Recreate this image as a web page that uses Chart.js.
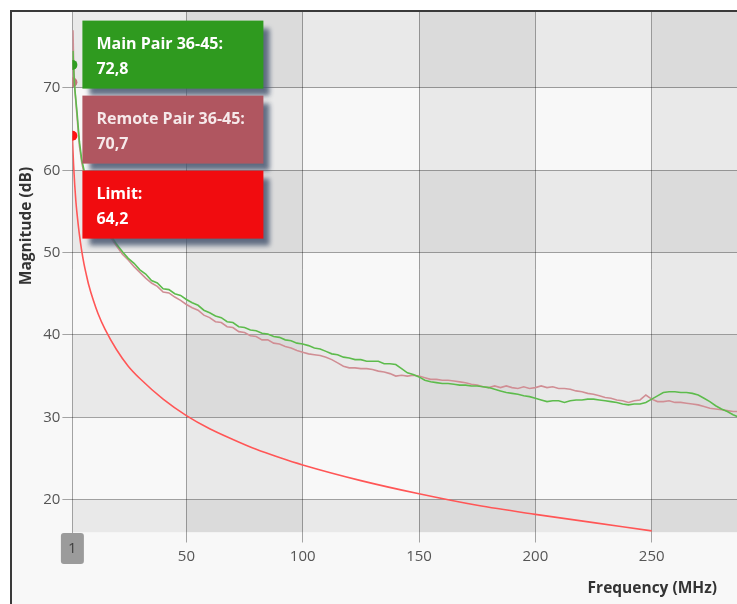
<!DOCTYPE html>
<html>
<head>
<meta charset="utf-8">
<script src="https://cdn.jsdelivr.net/npm/chart.js@4.4.1/dist/chart.umd.min.js"></script>
<style>
    html, body { margin: 0; background: #fff; overflow: hidden; }
    #frame {
        position: absolute; left: 10px; top: 10px;
        width: 770px; height: 620px;
        border-left: 2px solid #3a3a3a; border-top: 2px solid #3a3a3a;
        background: #f8f8f8; overflow: hidden;
    }
    #fextChart { position: absolute; left: 0; top: -12px; }
</style>
</head>
<body>
<div id="frame"><canvas id="fextChart" width="761" height="616"></canvas></div>
<script>
// ===== DATA =====
const freqs = [1, 1.25, 1.5, 2, 3, 4, 5, 6, 8, 10, 12, 15, 17.5,
    20, 22.5, 25, 27.5, 30, 32.5, 35, 37.5, 40, 42.5, 45, 47.5,
    50, 52.5, 55, 57.5, 60, 62.5, 65, 67.5, 70, 72.5, 75, 77.5,
    80, 82.5, 85, 87.5, 90, 92.5, 95, 97.5, 100, 102.5, 105, 107.5,
    110, 112.5, 115, 117.5, 120, 122.5, 125, 127.5, 130, 132.5, 135, 137.5,
    140, 142.5, 145, 147.5, 150, 152.5, 155, 157.5, 160, 162.5, 165, 167.5,
    170, 172.5, 175, 177.5, 180, 182.5, 185, 187.5, 190, 192.5, 195, 197.5,
    200, 202.5, 205, 207.5, 210, 212.5, 215, 217.5, 220, 222.5, 225, 227.5,
    230, 232.5, 235, 237.5, 240, 242.5, 245, 247.5, 250, 252.5, 255, 257.5,
    260, 262.5, 265, 267.5, 270, 272.5, 275, 277.5, 280, 282.5, 285, 287.5, 290];

const mainPair = [72.8, 74.5, 72.5, 70.0, 67.0, 63.5, 61.3, 60.0, 58.0, 56.4, 55.0, 53.2, 52.1,
    51.0, 50.1, 49.3, 48.7, 47.9, 47.4, 46.6, 46.3, 45.6, 45.5, 45.0, 44.8,
    44.3, 43.9, 43.6, 43.0, 42.7, 42.3, 42.1, 41.6, 41.5, 41.0, 40.9, 40.6,
    40.5, 40.2, 40.1, 39.8, 39.7, 39.4, 39.3, 39.0, 38.9, 38.7, 38.4, 38.3,
    38.0, 37.7, 37.6, 37.3, 37.2, 37.0, 37.0, 36.8, 36.8, 36.8, 36.5, 36.5,
    36.4, 35.9, 35.4, 35.2, 34.9, 34.5, 34.3, 34.2, 34.1, 34.1, 34.0, 33.9,
    33.9, 33.8, 33.8, 33.7, 33.6, 33.4, 33.2, 33.0, 32.9, 32.8, 32.6, 32.5,
    32.3, 32.1, 31.9, 32.0, 32.0, 31.8, 32.0, 32.1, 32.1, 32.2, 32.2, 32.1,
    32.0, 31.9, 31.8, 31.6, 31.5, 31.6, 31.6, 31.8, 32.2, 32.6, 33.0, 33.1,
    33.1, 33.0, 33.0, 32.9, 32.7, 32.3, 31.9, 31.4, 31.0, 30.7, 30.3, 30.0, 29.8];

const remotePair = [70.7, 77.0, 73.5, 70.0, 66.5, 63.0, 61.0, 59.6, 57.6, 56.0, 54.6, 52.9, 51.8,
    50.8, 49.8, 49.1, 48.3, 47.6, 46.9, 46.3, 45.9, 45.2, 45.1, 44.6, 44.2,
    43.7, 43.3, 43.0, 42.4, 42.1, 41.6, 41.5, 41.0, 40.9, 40.4, 40.3, 39.9,
    39.8, 39.4, 39.4, 39.0, 38.9, 38.6, 38.4, 38.1, 37.9, 37.7, 37.6, 37.5,
    37.3, 37.0, 36.6, 36.2, 36.0, 36.0, 35.9, 35.9, 35.8, 35.6, 35.5, 35.3,
    35.0, 35.1, 35.0, 35.1, 35.0, 34.8, 34.6, 34.6, 34.5, 34.5, 34.4, 34.3,
    34.2, 34.0, 33.9, 33.7, 33.6, 33.8, 33.6, 33.8, 33.6, 33.5, 33.7, 33.5,
    33.6, 33.8, 33.6, 33.7, 33.5, 33.5, 33.4, 33.2, 33.1, 32.9, 32.8, 32.6,
    32.4, 32.3, 32.1, 32.0, 31.8, 32.0, 32.1, 32.7, 32.2, 31.9, 31.9, 32.0,
    31.8, 31.8, 31.7, 31.6, 31.5, 31.3, 31.1, 31.0, 30.9, 30.8, 30.7, 30.7, 30.6];

const limitFreqs = [1, 1.25, 1.5, 2, 2.5, 3, 4, 5, 6, 7, 8, 10, 12, 15, 20, 25, 30, 40, 50,
    60, 70, 80, 90, 100, 125, 150, 175, 200, 225, 250];
const limitValues = [64.2, 62.3, 60.7, 58.2, 56.2, 54.7, 52.2, 50.2, 48.6, 47.3, 46.1, 44.2, 42.6, 40.7, 38.2, 36.2, 34.7, 32.2, 30.2,
    28.6, 27.3, 26.1, 25.1, 24.2, 22.3, 20.7, 19.3, 18.2, 17.2, 16.2];

const seriesNames = ['Main Pair 36-45', 'Remote Pair 36-45', 'Limit'];
const xTicks = [1, 50, 100, 150, 200, 250, 300];
const yTicks = [20, 30, 40, 50, 60, 70, 80];
const yMin = 16;
const cursorFreq = 1;

// ===== STYLE =====
const FONT = '"Open Sans", "Noto Sans", sans-serif';
const LINE_COLORS = ['#5dbb4c', '#d08e94', '#ff5656'];
const DOT_COLORS = ['#2f9e22', '#c4737b', '#ff1212'];
const BOX_COLORS = ['#2f9a1f', '#b05660', '#f10c0f'];
const GRID_COLOR = 'rgba(0, 0, 0, 0.34)';
const BAND_SHADE = 'rgba(0, 0, 0, 0.058)';
const CANVAS_H = 616;

const toPoints = (xs, ys) => xs.map((x, i) => ({ x: x, y: ys[i] }));

// checkerboard: alternate row bands and column bands overlap
const bandsPlugin = {
    id: 'bands',
    beforeDraw(chart) {
        const { ctx, chartArea: a, scales: { x, y } } = chart;
        ctx.save();
        ctx.beginPath();
        ctx.rect(a.left, a.top, a.right - a.left, a.bottom - a.top);
        ctx.clip();
        ctx.fillStyle = BAND_SHADE;
        const yBounds = [yMin, ...yTicks];
        for (let i = 0; i < yBounds.length - 1; i += 2) {
            const top = y.getPixelForValue(yBounds[i + 1]);
            const bottom = y.getPixelForValue(yBounds[i]);
            ctx.fillRect(a.left, top, a.right - a.left, bottom - top);
        }
        for (let i = 1; i < xTicks.length - 1; i += 2) {
            const left = x.getPixelForValue(xTicks[i]);
            const right = x.getPixelForValue(xTicks[i + 1]);
            ctx.fillRect(left, a.top, right - left, a.bottom - a.top);
        }
        ctx.restore();
    }
};

function roundRect(ctx, x, y, w, h, r) {
    ctx.beginPath();
    ctx.moveTo(x + r, y);
    ctx.arcTo(x + w, y, x + w, y + h, r);
    ctx.arcTo(x + w, y + h, x, y + h, r);
    ctx.arcTo(x, y + h, x, y, r);
    ctx.arcTo(x, y, x + w, y, r);
    ctx.closePath();
}

// cursor badge, value boxes and axis titles
const overlayPlugin = {
    id: 'overlay',
    afterDraw(chart) {
        const { ctx, chartArea: a, scales: { x } } = chart;
        ctx.save();

        // badge on the x axis at the cursor position
        const cx = x.getPixelForValue(cursorFreq);
        ctx.fillStyle = '#9b9b9b';
        roundRect(ctx, cx - 11.5, a.bottom + 0.5, 23, 31, 3);
        ctx.fill();
        ctx.fillStyle = '#3f3f3f';
        ctx.font = '15px ' + FONT;
        ctx.textAlign = 'center';
        ctx.textBaseline = 'middle';
        ctx.fillText(String(cursorFreq), cx, a.bottom + 16);

        // value boxes
        const boxLeft = a.left + 10;
        const boxWidth = 181;
        const boxHeight = 68;
        chart.data.datasets.forEach((ds, i) => {
            const point = ds.data.find(p => p.x === cursorFreq);
            const top = a.top + 15 + i * 75;
            ctx.save();
            ctx.shadowColor = 'rgba(70, 86, 112, 0.85)';
            ctx.shadowBlur = 5;
            ctx.shadowOffsetX = 7;
            ctx.shadowOffsetY = 7;
            ctx.fillStyle = BOX_COLORS[i];
            ctx.fillRect(boxLeft, top, boxWidth, boxHeight);
            ctx.restore();
            ctx.fillStyle = i === 1 ? '#f6e9ea' : '#ffffff';
            ctx.font = 'bold 16px ' + FONT;
            ctx.textAlign = 'left';
            ctx.textBaseline = 'alphabetic';
            ctx.fillText(seriesNames[i] + ':', boxLeft + 14, top + 28);
            ctx.fillText(point.y.toFixed(1).replace('.', ','), boxLeft + 14, top + 53);
        });

        // axis titles
        ctx.fillStyle = '#333';
        ctx.font = 'bold 15.5px ' + FONT;
        ctx.textAlign = 'right';
        ctx.textBaseline = 'middle';
        ctx.fillText('Frequency (MHz)', 705, 589);
        ctx.translate(15, 226);
        ctx.rotate(-Math.PI / 2);
        ctx.textAlign = 'center';
        ctx.fillText('Magnitude (dB)', 0, 0);

        ctx.restore();
    }
};

const lineDataset = (label, data, i, smooth) => ({
    label: label,
    data: data,
    borderColor: LINE_COLORS[i],
    backgroundColor: DOT_COLORS[i],
    borderWidth: 1.6,
    tension: 0,
    cubicInterpolationMode: smooth ? 'monotone' : 'default',
    pointRadius: ctx => (ctx.raw && ctx.raw.x === cursorFreq ? 5 : 0),
    pointBorderWidth: 0,
    pointBackgroundColor: DOT_COLORS[i]
});

new Chart(document.getElementById('fextChart'), {
    type: 'line',
    data: {
        datasets: [
            lineDataset(seriesNames[0], toPoints(freqs, mainPair), 0, false),
            lineDataset(seriesNames[1], toPoints(freqs, remotePair), 1, false),
            lineDataset(seriesNames[2], toPoints(limitFreqs, limitValues), 2, true)
        ]
    },
    options: {
        responsive: false,
        animation: false,
        layout: { padding: { top: 5.6, left: 0, right: 0, bottom: 0 } },
        plugins: {
            legend: { display: false },
            tooltip: { enabled: false }
        },
        scales: {
            x: {
                type: 'linear',
                min: xTicks[0],
                max: xTicks[xTicks.length - 1],
                border: { display: false },
                grid: { color: GRID_COLOR, tickLength: 10, tickColor: GRID_COLOR },
                ticks: {
                    color: '#555',
                    font: { family: FONT, size: 15 },
                    padding: 5,
                    maxRotation: 0,
                    callback: v => (v === cursorFreq ? '' : v)
                },
                afterBuildTicks: s => { s.ticks = xTicks.map(v => ({ value: v })); },
                afterFit: s => {
                    s.height = CANVAS_H - 532.5;
                    s.paddingLeft = 0;
                    s.paddingRight = 0;
                }
            },
            y: {
                min: yMin,
                max: yTicks[yTicks.length - 1],
                border: { display: false },
                grid: { color: GRID_COLOR, tickLength: 10, tickColor: GRID_COLOR },
                ticks: {
                    color: '#555',
                    font: { family: FONT, size: 15 },
                    padding: 2
                },
                afterBuildTicks: s => { s.ticks = yTicks.map(v => ({ value: v })); },
                afterFit: s => {
                    s.width = 60.4;
                    s.paddingTop = 0;
                    s.paddingBottom = 0;
                }
            }
        }
    },
    plugins: [bandsPlugin, overlayPlugin]
});
</script>
</body>
</html>
